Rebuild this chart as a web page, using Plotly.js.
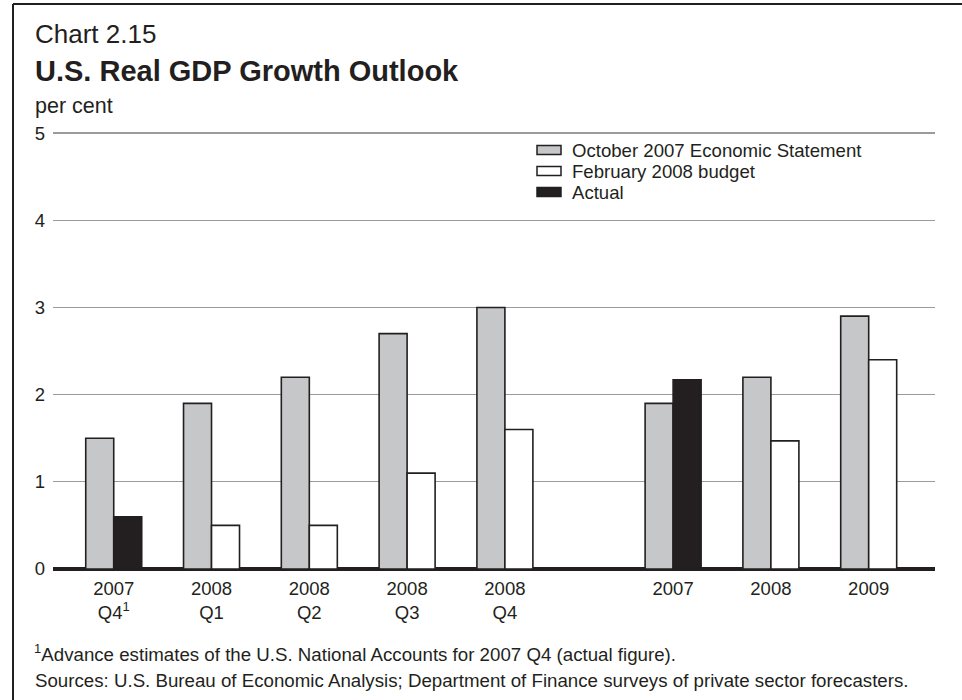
<!DOCTYPE html>
<html>
<head>
<meta charset="utf-8">
<script src="https://cdn.plot.ly/plotly-3.0.1.min.js"></script>
<style>
html, body { margin: 0; padding: 0; background: #ffffff; }
#chart { width: 962px; height: 700px; }
</style>
</head>
<body>
<div id="chart"></div>
<script>
// ---- data ----
var categories = ['2007<br>Q4<sup>1</sup>', '2008<br>Q1', '2008<br>Q2', '2008<br>Q3', '2008<br>Q4', '2007', '2008', '2009'];
var seriesNames = ['October 2007 Economic Statement', 'February 2008 budget', 'Actual'];
var october2007 = [1.5, 1.9, 2.2, 2.7, 3.0, 1.9, 2.2, 2.9];
var february2008 = [null, 0.5, 0.5, 1.1, 1.6, null, 1.47, 2.4];
var actual = [0.6, null, null, null, null, 2.17, null, null];
var yTicks = [0, 1, 2, 3, 4, 5];

var chartNumber = 'Chart 2.15';
var chartTitle = 'U.S. Real GDP Growth Outlook';
var yLabel = 'per cent';
var footnote = '<sup>1</sup>Advance estimates of the U.S. National Accounts for 2007 Q4 (actual figure).';
var sources = 'Sources: U.S. Bureau of Economic Analysis; Department of Finance surveys of private sector forecasters.';

// ---- layout helpers ----
var W = 962, H = 700;
var M = {l: 53, r: 27, t: 132, b: 131};
var PW = W - M.l - M.r, PH = H - M.t - M.b;
function px(x) { return (x - M.l) / PW; }
function py(y) { return (H - M.b - y) / PH; }

// quarterly group, then a wider gap before the annual group
var positions = categories.map(function (c, i) { return i < 5 ? i : i + 0.72; });
var bw = 0.2863;

var FONT = '"Liberation Sans", Arial, Helvetica, sans-serif';
var INK = '#231f20';
var colors = ['#c6c7c9', '#ffffff', INK];
var seriesValues = [october2007, february2008, actual];
var offsets = [-bw, 0, 0];

var traces = seriesValues.map(function (vals, k) {
  return {
    type: 'bar',
    name: seriesNames[k],
    x: positions,
    y: vals,
    width: bw,
    offset: offsets[k],
    marker: {color: colors[k], line: {color: INK, width: 1.6}},
    showlegend: false,
    hoverinfo: 'y'
  };
});

var shapes = [
  {type: 'line', xref: 'paper', yref: 'paper', x0: px(13), x1: px(962), y0: py(4), y1: py(4), line: {color: INK, width: 2}},
  {type: 'line', xref: 'paper', yref: 'paper', x0: px(13), x1: px(13), y0: py(4), y1: py(700), line: {color: INK, width: 2}}
];
var annotations = [
  {text: chartNumber, x: px(33), y: py(34), xanchor: 'left', yanchor: 'middle', font: {size: 26, color: INK, family: FONT}},
  {text: '<b>' + chartTitle + '</b>', x: px(33), y: py(71), xanchor: 'left', yanchor: 'middle', font: {size: 29, color: INK, family: FONT}},
  {text: yLabel, x: px(33), y: py(106), xanchor: 'left', yanchor: 'middle', font: {size: 21.5, color: INK, family: FONT}},
  {text: footnote, x: px(32), y: py(653), xanchor: 'left', yanchor: 'middle', font: {size: 18.7, color: INK, family: FONT}},
  {text: sources, x: px(33), y: py(680), xanchor: 'left', yanchor: 'middle', font: {size: 18.7, color: INK, family: FONT}}
];
// legend built from the series
seriesNames.forEach(function (name, k) {
  var cy = 150 + k * 21;
  shapes.push({type: 'rect', xref: 'paper', yref: 'paper', x0: px(537), x1: px(561), y0: py(cy - 4.5), y1: py(cy + 4.5),
    fillcolor: colors[k], line: {color: INK, width: 1.5}});
  annotations.push({text: name, x: px(570), y: py(cy), xanchor: 'left', yanchor: 'middle', font: {size: 18.6, color: INK, family: FONT}});
});
annotations.forEach(function (a) { a.xref = 'paper'; a.yref = 'paper'; a.showarrow = false; });

var layout = {
  width: W, height: H,
  margin: M,
  paper_bgcolor: '#ffffff', plot_bgcolor: '#ffffff',
  font: {family: FONT, color: INK, size: 18},
  barmode: 'overlay',
  showlegend: false,
  xaxis: {
    range: [-0.621, 8.398],
    tickmode: 'array', tickvals: positions, ticktext: categories,
    showgrid: false, zeroline: false, showline: false, ticks: '',
    ticklabelstandoff: 6,
    tickfont: {size: 18.5, color: INK, family: FONT},
    fixedrange: true
  },
  yaxis: {
    range: [0, 5.012],
    tickmode: 'array', tickvals: yTicks,
    showgrid: true, gridcolor: '#9b9b9b', gridwidth: 1.3,
    zeroline: true, zerolinecolor: INK, zerolinewidth: 3.5,
    showline: false, ticks: '',
    ticklabelstandoff: 7,
    tickfont: {size: 18.5, color: INK, family: FONT},
    fixedrange: true
  },
  shapes: shapes,
  annotations: annotations
};

Plotly.newPlot('chart', traces, layout, {displayModeBar: false, staticPlot: true});
</script>
</body>
</html>
